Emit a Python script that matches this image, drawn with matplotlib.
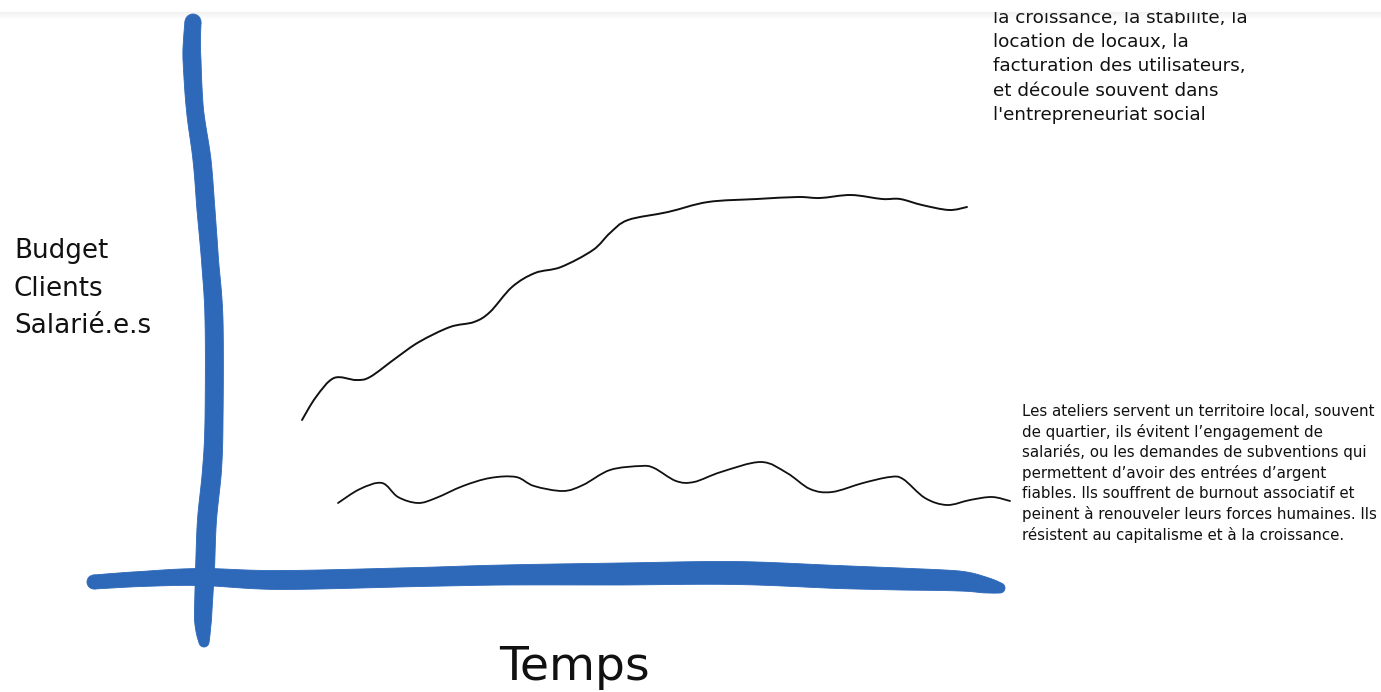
import numpy as np
import matplotlib
matplotlib.use("Agg")
import matplotlib.pyplot as plt
from matplotlib.path import Path
from matplotlib.patches import PathPatch, Rectangle, Polygon, Circle

# ---------------- data (canvas units) ----------------
upper_x = [302, 316, 334, 356, 370, 396, 419, 450, 474, 490, 512, 535, 561,
           593, 610, 628, 668, 708, 757, 798, 820, 851, 882, 900, 922, 949, 967]
upper_y = [420, 397, 378, 380, 377, 358, 342, 327, 322, 312, 287, 273, 267,
           250, 233, 220, 212, 202, 199, 197, 198, 195, 199, 199, 205, 210, 207]

lower_x = [338, 360, 382, 398, 418, 436, 463, 490, 516, 534, 563, 583, 610,
           641, 654, 676, 694, 721, 761, 787, 810, 832, 863, 890, 903, 925,
           947, 970, 992, 1010]
lower_y = [503, 489, 483, 497, 503, 498, 486, 478, 477, 486, 491, 485, 470,
           466, 468, 481, 482, 472, 462, 473, 489, 492, 483, 477, 479, 498,
           505, 500, 497, 501]

vaxis_y = [22, 40, 60, 110, 160, 210, 260, 320, 420, 470, 520, 570, 620, 642]
vaxis_x = [193, 192, 192, 195, 202, 206, 210, 214, 214, 212, 207, 205, 203, 204]
vaxis_w = [16, 17, 18, 17, 18, 18, 17, 18, 18, 19, 19, 19, 17, 10]

haxis_x = [94, 141, 201, 280, 419, 504, 620, 735, 838, 900, 959, 985, 1000]
haxis_y = [582, 579, 577, 580, 577, 575, 574, 573, 577, 579, 581, 585, 588]
haxis_w = [14, 15, 17, 19, 19, 20, 22, 23, 23, 22, 20, 16, 10]

ylabel_lines = ["Budget", "Clients", "Salarié.e.s"]
xlabel_text = "Temps"
upper_note = ["la croissance, la stabilité, la",
              "location de locaux, la",
              "facturation des utilisateurs,",
              "et découle souvent dans",
              "l'entrepreneuriat social"]
lower_note = ["Les ateliers servent un territoire local, souvent",
              "de quartier, ils évitent l’engagement de",
              "salariés, ou les demandes de subventions qui",
              "permettent d’avoir des entrées d’argent",
              "fiables. Ils souffrent de burnout associatif et",
              "peinent à renouveler leurs forces humaines. Ils",
              "résistent au capitalisme et à la croissance."]

BLUE = "#2d68b9"
W, H = 1381, 692


def catmull(xs, ys, ws=None, steps=12):
    pts = np.column_stack([xs, ys]).astype(float)
    n = len(pts)
    out, wout = [], []
    for i in range(n - 1):
        p0 = pts[i - 1] if i > 0 else pts[i]
        p1, p2 = pts[i], pts[i + 1]
        p3 = pts[i + 2] if i + 2 < n else pts[i + 1]
        c1 = p1 + (p2 - p0) / 6.0
        c2 = p2 - (p3 - p1) / 6.0
        t = np.linspace(0, 1, steps, endpoint=(i == n - 2))[:, None]
        seg = ((1 - t) ** 3) * p1 + 3 * ((1 - t) ** 2) * t * c1 + \
            3 * (1 - t) * t ** 2 * c2 + t ** 3 * p2
        out.append(seg)
        if ws is not None:
            wout.append(ws[i] + (ws[i + 1] - ws[i]) * t[:, 0])
    out = np.vstack(out)
    return out, (np.concatenate(wout) if ws is not None else None)


def smooth_path(xs, ys):
    pts = np.column_stack([xs, ys]).astype(float)
    n = len(pts)
    verts = [pts[0]]
    codes = [Path.MOVETO]
    for i in range(n - 1):
        p0 = pts[i - 1] if i > 0 else pts[i]
        p1, p2 = pts[i], pts[i + 1]
        p3 = pts[i + 2] if i + 2 < n else pts[i + 1]
        verts += [p1 + (p2 - p0) / 6.0, p2 - (p3 - p1) / 6.0, p2]
        codes += [Path.CURVE4] * 3
    return Path(verts, codes)


fig = plt.figure(figsize=(W / 100, H / 100), dpi=100)
ax = fig.add_axes([0, 0, 1, 1])
ax.set_xlim(0, W)
ax.set_ylim(H, 0)
ax.axis("off")


def brush(xs, ys, ws):
    pts, wid = catmull(xs, ys, ws)
    d = np.gradient(pts, axis=0)
    d /= np.linalg.norm(d, axis=1)[:, None]
    nrm = np.column_stack([-d[:, 1], d[:, 0]])
    left = pts + nrm * (wid[:, None] / 2)
    right = pts - nrm * (wid[:, None] / 2)
    poly = np.vstack([left, right[::-1]])
    ax.add_patch(Polygon(poly, closed=True, facecolor=BLUE, edgecolor=BLUE,
                         lw=0.6, zorder=2))
    for k in (0, -1):
        ax.add_patch(Circle(pts[k], wid[k] / 2, facecolor=BLUE,
                            edgecolor=BLUE, lw=0.6, zorder=2))


brush(vaxis_x, vaxis_y, vaxis_w)
brush(haxis_x, haxis_y, haxis_w)

ax.add_patch(PathPatch(smooth_path(upper_x, upper_y), fill=False,
                       edgecolor="#111111", lw=1.4, capstyle="round", zorder=3))
ax.add_patch(PathPatch(smooth_path(lower_x, lower_y), fill=False,
                       edgecolor="#111111", lw=1.3, capstyle="round", zorder=3))

font = "DejaVu Sans"

for i, t in enumerate(ylabel_lines):
    ax.text(14, 251 + i * 37.5, t, fontsize=18.8, family=font, ha="left",
            va="center", color="#111111")

ax.text(574, 668, xlabel_text, fontsize=34, family=font, ha="center",
        va="center", color="#111111")

for i, t in enumerate(upper_note):
    ax.text(993, 18 + i * 24.2, t, fontsize=13.2, family=font, ha="left",
            va="center", color="#111111")
for i, t in enumerate(lower_note):
    ax.text(1022, 411 + i * 20.6, t, fontsize=10.8, family=font, ha="left",
            va="center", color="#111111")

# top band with soft shadow
ax.add_patch(Rectangle((0, 0), W, 12, facecolor="white", edgecolor="none",
                       zorder=10))
shade = np.zeros((8, 2, 4))
shade[..., :3] = 0.55
shade[..., 3] = np.linspace(0.12, 0.0, 8)[:, None]
ax.imshow(shade, extent=(0, W, 20, 12), aspect="auto", zorder=11,
          interpolation="bilinear")
ax.set_xlim(0, W)
ax.set_ylim(H, 0)

fig.savefig("out.png", dpi=100, facecolor="white")
